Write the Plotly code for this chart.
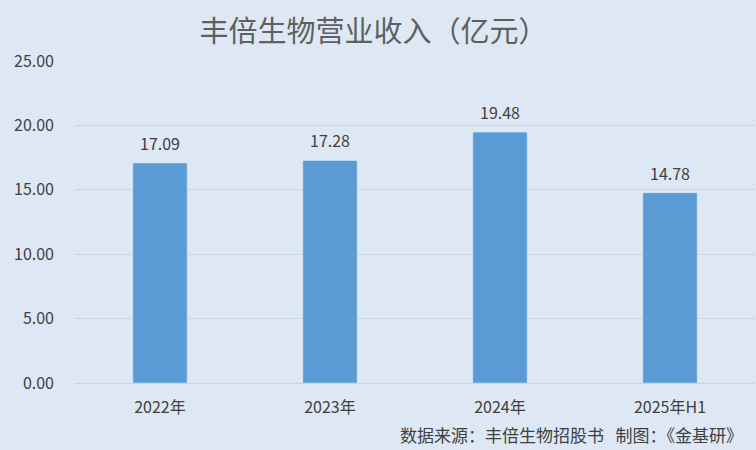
import plotly.graph_objects as go

# Data
years = ['2022年', '2023年', '2024年', '2025年H1']
revenue = [17.09, 17.28, 19.48, 14.78]
y_ticks = [0, 5, 10, 15, 20, 25]

bg = '#dde8f4'
font_cn = 'Noto Sans CJK SC'

fig = go.Figure(
    go.Bar(
        x=years,
        y=revenue,
        marker=dict(color='#5b9bd5'),
        width=0.32,
        hoverinfo='skip',
    )
)

# value labels sit a bit higher above the bars than plotly's default
for yr, v in zip(years, revenue):
    fig.add_annotation(
        x=yr, y=v, text=f'{v:.2f}', showarrow=False,
        yanchor='bottom', yshift=6,
        font=dict(size=16, color='#404040', family=font_cn),
    )

fig.update_layout(
    width=756,
    height=450,
    paper_bgcolor=bg,
    plot_bgcolor=bg,
    margin=dict(l=75, r=1, t=61, b=67),
    showlegend=False,
    title=dict(
        text='丰倍生物营业收入（亿元）',
        x=0.494, xanchor='center', y=0.929, yanchor='middle',
        font=dict(size=29, color='#5f5f5f', family=font_cn),
    ),
    font=dict(family=font_cn, color='#404040'),
)

fig.update_yaxes(
    range=[0, 25],
    tickvals=y_ticks,
    tickformat='.2f',
    gridcolor='#c9d5e1',
    zeroline=False,
    showline=False,
    tickfont=dict(size=16, color='#404040'),
    ticklabelstandoff=20,
)
fig.update_xaxes(
    showline=True,
    linecolor='#c9d5e1',
    tickfont=dict(size=16, color='#404040'),
    ticks='',
    ticklabelstandoff=10,
)

fig.add_annotation(
    text='数据来源：丰倍生物招股书&nbsp;&nbsp;&nbsp;制图：《金基研》',
    xref='paper', yref='paper', x=0.985, y=-0.16,
    xanchor='right', yanchor='middle', showarrow=False,
    font=dict(size=17, color='#404040', family=font_cn),
)

fig.write_html('out.html', config={'displayModeBar': False},
               post_script="document.body.style.margin='0';")
